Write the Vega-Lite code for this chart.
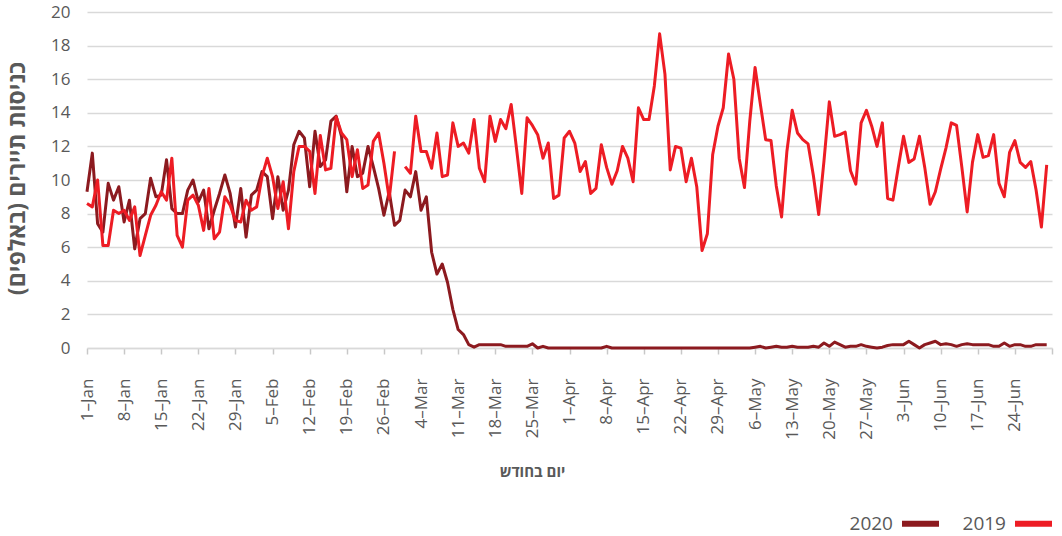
{
  "$schema": "https://vega.github.io/schema/vega-lite/v6.json",
  "width": 965,
  "height": 336,
  "autosize": {"type": "none"},
  "padding": {"left": 87, "top": 12, "right": 10, "bottom": 188},
  "background": "white",
  "config": {"font": "Open Sans", "view": {"stroke": null}},
  "data": {"values": [
    {"d":0,"y2020":9.3,"y2019":8.6},{"d":1,"y2020":11.6,"y2019":8.4},{"d":2,"y2020":7.4,"y2019":10.0},{"d":3,"y2020":6.9,"y2019":6.1},
    {"d":4,"y2020":9.8,"y2019":6.1},{"d":5,"y2020":8.8,"y2019":8.2},{"d":6,"y2020":9.6,"y2019":8.0},{"d":7,"y2020":7.5,"y2019":8.2},
    {"d":8,"y2020":8.8,"y2019":7.6},{"d":9,"y2020":5.9,"y2019":8.4},{"d":10,"y2020":7.7,"y2019":5.5},{"d":11,"y2020":8.0,"y2019":6.7},
    {"d":12,"y2020":10.1,"y2019":7.9},{"d":13,"y2020":9.0,"y2019":8.5},{"d":14,"y2020":9.1,"y2019":9.3},{"d":15,"y2020":11.2,"y2019":8.8},
    {"d":16,"y2020":8.3,"y2019":11.3},{"d":17,"y2020":8.0,"y2019":6.7},{"d":18,"y2020":8.0,"y2019":6.0},{"d":19,"y2020":9.4,"y2019":8.8},
    {"d":20,"y2020":10.0,"y2019":9.1},{"d":21,"y2020":8.7,"y2019":8.5},{"d":22,"y2020":9.4,"y2019":7.0},{"d":23,"y2020":7.1,"y2019":9.5},
    {"d":24,"y2020":8.2,"y2019":6.5},{"d":25,"y2020":9.2,"y2019":6.9},{"d":26,"y2020":10.3,"y2019":9.0},{"d":27,"y2020":9.2,"y2019":8.5},
    {"d":28,"y2020":7.2,"y2019":7.6},{"d":29,"y2020":9.5,"y2019":7.5},{"d":30,"y2020":6.6,"y2019":8.8},{"d":31,"y2020":9.1,"y2019":8.2},
    {"d":32,"y2020":9.4,"y2019":8.4},{"d":33,"y2020":10.5,"y2019":10.2},{"d":34,"y2020":10.2,"y2019":11.3},{"d":35,"y2020":7.7,"y2019":10.2},
    {"d":36,"y2020":10.2,"y2019":8.3},{"d":37,"y2020":8.2,"y2019":9.9},{"d":38,"y2020":9.4,"y2019":7.1},{"d":39,"y2020":12.1,"y2019":10.5},
    {"d":40,"y2020":12.9,"y2019":12.0},{"d":41,"y2020":12.5,"y2019":12.0},{"d":42,"y2020":9.6,"y2019":11.7},{"d":43,"y2020":12.9,"y2019":9.2},
    {"d":44,"y2020":10.8,"y2019":12.65},{"d":45,"y2020":11.2,"y2019":10.6},{"d":46,"y2020":13.5,"y2019":10.7},{"d":47,"y2020":13.8,"y2019":13.75},
    {"d":48,"y2020":12.6,"y2019":12.8},{"d":49,"y2020":9.3,"y2019":12.4},{"d":50,"y2020":12.0,"y2019":10.2},{"d":51,"y2020":10.2,"y2019":11.8},
    {"d":52,"y2020":10.4,"y2019":9.5},{"d":53,"y2020":12.0,"y2019":9.7},{"d":54,"y2020":10.8,"y2019":12.3},{"d":55,"y2020":9.5,"y2019":12.8},
    {"d":56,"y2020":7.9,"y2019":11.0},{"d":57,"y2020":9.3,"y2019":8.9},{"d":58,"y2020":7.3,"y2019":11.7},{"d":59,"y2020":7.6,"y2019":null},
    {"d":60,"y2020":9.4,"y2019":10.8},{"d":61,"y2020":9.0,"y2019":10.4},{"d":62,"y2020":10.5,"y2019":13.8},{"d":63,"y2020":8.2,"y2019":11.7},
    {"d":64,"y2020":9.0,"y2019":11.7},{"d":65,"y2020":5.7,"y2019":10.7},{"d":66,"y2020":4.4,"y2019":12.8},{"d":67,"y2020":5.0,"y2019":10.2},
    {"d":68,"y2020":3.9,"y2019":10.3},{"d":69,"y2020":2.3,"y2019":13.4},{"d":70,"y2020":1.1,"y2019":12.0},{"d":71,"y2020":0.8,"y2019":12.2},
    {"d":72,"y2020":0.2,"y2019":11.6},{"d":73,"y2020":0.05,"y2019":13.6},{"d":74,"y2020":0.2,"y2019":10.7},{"d":75,"y2020":0.2,"y2019":9.9},
    {"d":76,"y2020":0.2,"y2019":13.8},{"d":77,"y2020":0.2,"y2019":12.3},{"d":78,"y2020":0.2,"y2019":13.6},{"d":79,"y2020":0.1,"y2019":13.05},
    {"d":80,"y2020":0.1,"y2019":14.5},{"d":81,"y2020":0.1,"y2019":11.9},{"d":82,"y2020":0.1,"y2019":9.2},{"d":83,"y2020":0.1,"y2019":13.7},
    {"d":84,"y2020":0.25,"y2019":13.25},{"d":85,"y2020":0.0,"y2019":12.7},{"d":86,"y2020":0.1,"y2019":11.3},{"d":87,"y2020":0.0,"y2019":12.2},
    {"d":88,"y2020":0.0,"y2019":8.9},{"d":89,"y2020":0.0,"y2019":9.1},{"d":90,"y2020":0.0,"y2019":12.5},{"d":91,"y2020":0.0,"y2019":12.9},
    {"d":92,"y2020":0.0,"y2019":12.2},{"d":93,"y2020":0.0,"y2019":10.5},{"d":94,"y2020":0.0,"y2019":11.1},{"d":95,"y2020":0.0,"y2019":9.2},
    {"d":96,"y2020":0.0,"y2019":9.5},{"d":97,"y2020":0.0,"y2019":12.1},{"d":98,"y2020":0.1,"y2019":10.75},{"d":99,"y2020":0.0,"y2019":9.75},
    {"d":100,"y2020":0.0,"y2019":10.55},{"d":101,"y2020":0.0,"y2019":12.0},{"d":102,"y2020":0.0,"y2019":11.3},{"d":103,"y2020":0.0,"y2019":9.9},
    {"d":104,"y2020":0.0,"y2019":14.3},{"d":105,"y2020":0.0,"y2019":13.6},{"d":106,"y2020":0.0,"y2019":13.6},{"d":107,"y2020":0.0,"y2019":15.6},
    {"d":108,"y2020":0.0,"y2019":18.7},{"d":109,"y2020":0.0,"y2019":16.3},{"d":110,"y2020":0.0,"y2019":10.6},{"d":111,"y2020":0.0,"y2019":12.0},
    {"d":112,"y2020":0.0,"y2019":11.9},{"d":113,"y2020":0.0,"y2019":9.9},{"d":114,"y2020":0.0,"y2019":11.3},{"d":115,"y2020":0.0,"y2019":9.6},
    {"d":116,"y2020":0.0,"y2019":5.8},{"d":117,"y2020":0.0,"y2019":6.8},{"d":118,"y2020":0.0,"y2019":11.5},{"d":119,"y2020":0.0,"y2019":13.2},
    {"d":120,"y2020":0.0,"y2019":14.3},{"d":121,"y2020":0.0,"y2019":17.5},{"d":122,"y2020":0.0,"y2019":16.0},{"d":123,"y2020":0.0,"y2019":11.3},
    {"d":124,"y2020":0.0,"y2019":9.55},{"d":125,"y2020":0.0,"y2019":13.5},{"d":126,"y2020":0.05,"y2019":16.7},{"d":127,"y2020":0.1,"y2019":14.5},
    {"d":128,"y2020":0.0,"y2019":12.4},{"d":129,"y2020":0.05,"y2019":12.35},{"d":130,"y2020":0.1,"y2019":9.65},{"d":131,"y2020":0.05,"y2019":7.8},
    {"d":132,"y2020":0.05,"y2019":11.7},{"d":133,"y2020":0.1,"y2019":14.15},{"d":134,"y2020":0.05,"y2019":12.8},{"d":135,"y2020":0.05,"y2019":12.4},
    {"d":136,"y2020":0.05,"y2019":12.15},{"d":137,"y2020":0.1,"y2019":10.25},{"d":138,"y2020":0.05,"y2019":7.95},{"d":139,"y2020":0.3,"y2019":11.15},
    {"d":140,"y2020":0.1,"y2019":14.65},{"d":141,"y2020":0.35,"y2019":12.6},{"d":142,"y2020":0.2,"y2019":12.7},{"d":143,"y2020":0.05,"y2019":12.85},
    {"d":144,"y2020":0.1,"y2019":10.55},{"d":145,"y2020":0.1,"y2019":9.75},{"d":146,"y2020":0.2,"y2019":13.4},{"d":147,"y2020":0.1,"y2019":14.15},
    {"d":148,"y2020":0.05,"y2019":13.2},{"d":149,"y2020":0.0,"y2019":12.0},{"d":150,"y2020":0.05,"y2019":13.4},{"d":151,"y2020":0.15,"y2019":8.9},
    {"d":152,"y2020":0.2,"y2019":8.8},{"d":153,"y2020":0.2,"y2019":10.75},{"d":154,"y2020":0.2,"y2019":12.6},{"d":155,"y2020":0.4,"y2019":11.05},
    {"d":156,"y2020":0.2,"y2019":11.25},{"d":157,"y2020":0.0,"y2019":12.6},{"d":158,"y2020":0.2,"y2019":10.75},{"d":159,"y2020":0.3,"y2019":8.55},
    {"d":160,"y2020":0.4,"y2019":9.3},{"d":161,"y2020":0.2,"y2019":10.65},{"d":162,"y2020":0.25,"y2019":11.9},{"d":163,"y2020":0.2,"y2019":13.4},
    {"d":164,"y2020":0.1,"y2019":13.25},{"d":165,"y2020":0.2,"y2019":10.75},{"d":166,"y2020":0.25,"y2019":8.1},{"d":167,"y2020":0.2,"y2019":11.05},
    {"d":168,"y2020":0.2,"y2019":12.7},{"d":169,"y2020":0.2,"y2019":11.35},{"d":170,"y2020":0.2,"y2019":11.45},{"d":171,"y2020":0.1,"y2019":12.7},
    {"d":172,"y2020":0.1,"y2019":9.8},{"d":173,"y2020":0.3,"y2019":9.0},{"d":174,"y2020":0.1,"y2019":11.65},{"d":175,"y2020":0.2,"y2019":12.35},
    {"d":176,"y2020":0.2,"y2019":11.05},{"d":177,"y2020":0.1,"y2019":10.75},{"d":178,"y2020":0.1,"y2019":11.1},{"d":179,"y2020":0.2,"y2019":9.4},
    {"d":180,"y2020":0.2,"y2019":7.2},{"d":181,"y2020":0.2,"y2019":10.9}
  ]},
  "encoding": {
    "x": {
      "field": "d", "type": "quantitative",
      "scale": {"domain": [0, 182], "nice": false, "zero": false},
      "axis": {
        "values": [0,7,14,21,28,35,42,49,56,63,70,77,84,91,98,105,112,119,126,133,140,147,154,161,168,175,182],
        "labelExpr": "datum.value >= 182 ? '' : timeFormat(datetime(2020, 0, 1 + datum.value), '%-d–%b')",
        "labelAngle": -90, "labelFontSize": 17, "labelColor": "#595959", "labelPadding": 24,
        "labelFlush": false, "labelOverlap": false, "labelBound": false,
        "tickSize": 6, "tickColor": "#c8c8c8", "tickWidth": 1.5,
        "domainColor": "#d9d9d9", "domainWidth": 1.5, "grid": false,
        "title": "יום בחודש", "titleFontSize": 15, "titleFontWeight": "bold", "titleColor": "#595959",
        "titleX": 445, "titleY": 123, "titleBaseline": "middle", "titleAlign": "center"
      }
    }
  },
  "layer": [
    {
      "mark": {"type": "line", "strokeWidth": 3, "strokeJoin": "round", "clip": false},
      "encoding": {
        "y": {
          "field": "y2020", "type": "quantitative",
          "scale": {"domain": [0, 20], "nice": false},
          "axis": {
            "values": [0,2,4,6,8,10,12,14,16,18,20],
            "grid": true, "gridColor": "#d9d9d9", "gridWidth": 1.5,
            "domain": false, "ticks": false, "labelPadding": 17,
            "labelFontSize": 17, "labelColor": "#595959",
            "title": "כניסות תיירים (באלפים)‏", "titleFontSize": 23, "titleFontWeight": "bold", "titleColor": "#595959",
            "titleX": -70, "titleY": 166, "titleAngle": 270, "titleAlign": "center", "titleBaseline": "middle"
          }
        },
        "color": {
          "datum": "2020", "type": "nominal",
          "scale": {"domain": ["2020", "2019"], "range": ["#8C1A1F", "#ED1C24"]},
          "legend": {
            "orient": "none", "legendX": 812, "legendY": 490, "direction": "horizontal",
            "title": null, "symbolType": "stroke", "symbolStrokeWidth": 6, "symbolSize": 1369,
            "labelFontSize": 19, "labelColor": "#595959", "labelAlign": "right", "labelOffset": -49,
            "columnPadding": 11
          }
        }
      }
    },
    {
      "mark": {"type": "line", "strokeWidth": 3, "strokeJoin": "round", "clip": false},
      "encoding": {
        "y": {
          "field": "y2019", "type": "quantitative",
          "scale": {"domain": [0, 20], "nice": false},
          "axis": {
            "values": [0,2,4,6,8,10,12,14,16,18,20],
            "grid": true, "gridColor": "#d9d9d9", "gridWidth": 1.5,
            "domain": false, "ticks": false, "labelPadding": 17,
            "labelFontSize": 17, "labelColor": "#595959",
            "title": "כניסות תיירים (באלפים)‏", "titleFontSize": 23, "titleFontWeight": "bold", "titleColor": "#595959",
            "titleX": -70, "titleY": 166, "titleAngle": 270, "titleAlign": "center", "titleBaseline": "middle"
          }
        },
        "color": {"datum": "2019", "type": "nominal"}
      }
    }
  ]
}
